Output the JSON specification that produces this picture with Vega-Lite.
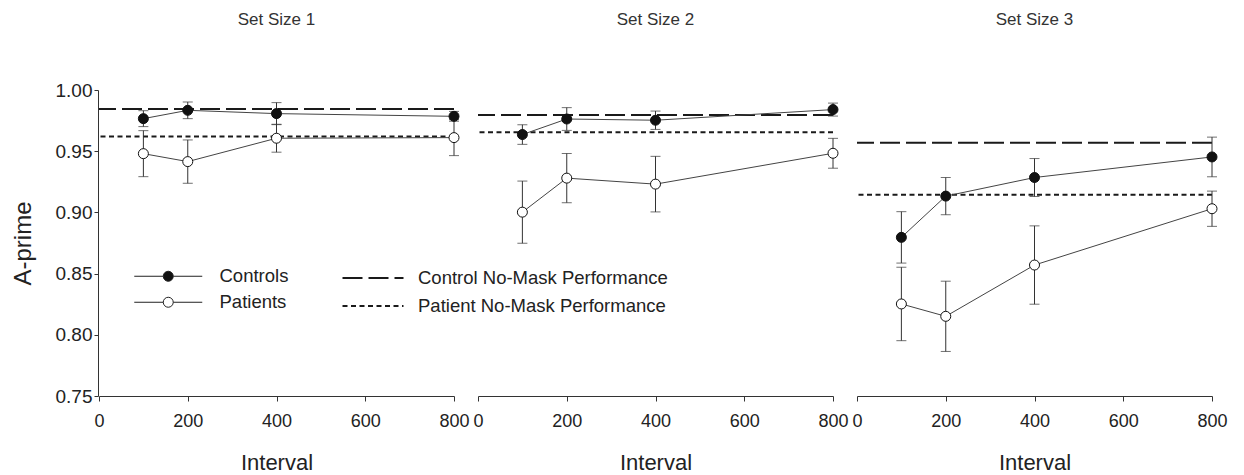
{
  "$schema": "https://vega.github.io/schema/vega-lite/v6.json",
  "padding": {"left": 11, "top": 11, "right": 5, "bottom": 5},
  "data": {"values": [
    {"set": "Set Size 1", "group": "Controls", "interval": 100, "value": 0.9766, "err": 0.0065},
    {"set": "Set Size 1", "group": "Controls", "interval": 200, "value": 0.9834, "err": 0.0068},
    {"set": "Set Size 1", "group": "Controls", "interval": 400, "value": 0.9807, "err": 0.009},
    {"set": "Set Size 1", "group": "Controls", "interval": 800, "value": 0.9785, "err": 0.004},
    {"set": "Set Size 1", "group": "Patients", "interval": 100, "value": 0.948, "err": 0.0188},
    {"set": "Set Size 1", "group": "Patients", "interval": 200, "value": 0.9415, "err": 0.0177},
    {"set": "Set Size 1", "group": "Patients", "interval": 400, "value": 0.9606, "err": 0.0114},
    {"set": "Set Size 1", "group": "Patients", "interval": 800, "value": 0.9611, "err": 0.0147},
    {"set": "Set Size 2", "group": "Controls", "interval": 100, "value": 0.9636, "err": 0.008},
    {"set": "Set Size 2", "group": "Controls", "interval": 200, "value": 0.9763, "err": 0.0093},
    {"set": "Set Size 2", "group": "Controls", "interval": 400, "value": 0.9753, "err": 0.0075},
    {"set": "Set Size 2", "group": "Controls", "interval": 800, "value": 0.984, "err": 0.0053},
    {"set": "Set Size 2", "group": "Patients", "interval": 100, "value": 0.9002, "err": 0.0254},
    {"set": "Set Size 2", "group": "Patients", "interval": 200, "value": 0.928, "err": 0.0201},
    {"set": "Set Size 2", "group": "Patients", "interval": 400, "value": 0.9231, "err": 0.0227},
    {"set": "Set Size 2", "group": "Patients", "interval": 800, "value": 0.9483, "err": 0.0122},
    {"set": "Set Size 3", "group": "Controls", "interval": 100, "value": 0.8796, "err": 0.021},
    {"set": "Set Size 3", "group": "Controls", "interval": 200, "value": 0.9133, "err": 0.0152},
    {"set": "Set Size 3", "group": "Controls", "interval": 400, "value": 0.9285, "err": 0.0155},
    {"set": "Set Size 3", "group": "Controls", "interval": 800, "value": 0.9453, "err": 0.0162},
    {"set": "Set Size 3", "group": "Patients", "interval": 100, "value": 0.8252, "err": 0.030},
    {"set": "Set Size 3", "group": "Patients", "interval": 200, "value": 0.8151, "err": 0.0287},
    {"set": "Set Size 3", "group": "Patients", "interval": 400, "value": 0.857, "err": 0.032},
    {"set": "Set Size 3", "group": "Patients", "interval": 800, "value": 0.903, "err": 0.0144},
    {"set": "Set Size 1", "line": "Control No-Mask Performance", "value": 0.9845},
    {"set": "Set Size 1", "line": "Patient No-Mask Performance", "value": 0.962},
    {"set": "Set Size 2", "line": "Control No-Mask Performance", "value": 0.9795},
    {"set": "Set Size 2", "line": "Patient No-Mask Performance", "value": 0.9655},
    {"set": "Set Size 3", "line": "Control No-Mask Performance", "value": 0.957},
    {"set": "Set Size 3", "line": "Patient No-Mask Performance", "value": 0.9144}
  ]},
  "facet": {
    "column": {
      "field": "set", "type": "nominal",
      "header": {"title": null, "labelFontSize": 17, "labelColor": "#333", "labelPadding": 61, "labelFont": "Liberation Sans"}
    }
  },
  "spacing": 16,
  "spec": {
    "width": 355,
    "height": 306,
    "layer": [
      {
        "transform": [{"filter": "datum.line != null"}],
        "mark": {"type": "rule", "color": "#1a1a1a", "strokeWidth": 2},
        "encoding": {
          "y": {"field": "value", "type": "quantitative", "title": "A-prime"},
          "strokeDash": {
            "field": "line", "type": "nominal",
            "scale": {"domain": ["Control No-Mask Performance", "Patient No-Mask Performance"], "range": [[20, 6], [5, 3.5]]},
            "legend": {
              "title": null, "orient": "none", "legendX": 263, "legendY": 177,
              "symbolType": "M-3.05,0H3.05", "symbolSize": 400, "symbolStrokeColor": "#1a1a1a", "symbolStrokeWidth": 2,
              "symbolFillColor": "transparent", "labelLimit": 500,
              "labelFontSize": 18.5, "labelColor": "#222", "labelOffset": 34, "rowPadding": 7, "padding": 0, "labelFont": "Liberation Sans"
            }
          }
        }
      },
      {
        "transform": [{"filter": "datum.group != null"}],
        "mark": {"type": "line", "color": "#444", "strokeWidth": 1},
        "encoding": {
          "x": {"field": "interval", "type": "quantitative", "title": "Interval"},
          "y": {"field": "value", "type": "quantitative", "title": "A-prime"},
          "detail": {"field": "group"}
        }
      },
      {
        "transform": [{"filter": "datum.group != null"}],
        "mark": {"type": "errorbar", "color": "#333", "thickness": 1, "ticks": {"size": 10, "color": "#333", "thickness": 1}},
        "encoding": {
          "x": {"field": "interval", "type": "quantitative", "title": "Interval"},
          "y": {"field": "value", "type": "quantitative", "title": "A-prime"},
          "yError": {"field": "err"},
          "detail": {"field": "group"}
        }
      },
      {
        "transform": [{"filter": "datum.group != null"}],
        "mark": {"type": "point", "filled": true, "stroke": "#111", "strokeWidth": 1, "size": 100, "opacity": 1},
        "encoding": {
          "x": {
            "field": "interval", "type": "quantitative",
            "scale": {"domain": [0, 800], "nice": false},
            "axis": {"title": "Interval", "values": [0, 200, 400, 600, 800], "labelFlush": false, "tickSize": 5, "labelPadding": 11, "titlePadding": 22, "labelFontSize": 18, "titleFontSize": 22}
          },
          "y": {
            "field": "value", "type": "quantitative",
            "scale": {"domain": [0.75, 1.0], "nice": false, "zero": false},
            "axis": {"title": "A-prime", "values": [0.75, 0.8, 0.85, 0.9, 0.95, 1.0], "format": ".2f", "tickSize": 4, "labelPadding": 2, "titlePadding": 20, "titleFontSize": 24, "labelFontSize": 19}
          },
          "fill": {
            "field": "group", "type": "nominal",
            "scale": {"domain": ["Controls", "Patients"], "range": ["#111111", "#ffffff"]},
            "legend": {
              "title": null, "orient": "none", "legendX": 60, "legendY": 177,
              "symbolType": "M-6.8,0H-1M1,0H6.8M1,0A1,1,0,1,1,-1,0A1,1,0,1,1,1,0Z",
              "symbolSize": 100, "symbolStrokeColor": "#222", "symbolStrokeWidth": 1, "symbolOpacity": 1,
              "labelFontSize": 18.5, "labelColor": "#222", "labelOffset": 42, "rowPadding": 7, "padding": 0, "labelFont": "Liberation Sans"
            }
          }
        }
      }
    ]
  },
  "resolve": {"scale": {"x": "shared", "y": "shared"}},
  "config": {
    "font": "Liberation Sans",
    "view": {"stroke": null},
    "axis": {
      "grid": false, "domainColor": "#333", "tickColor": "#333", "labelColor": "#222", "titleColor": "#222",
      "labelFontSize": 17, "titleFontSize": 21, "titleFontWeight": "normal", "labelFont": "Liberation Sans", "titleFont": "Liberation Sans"
    }
  }
}
